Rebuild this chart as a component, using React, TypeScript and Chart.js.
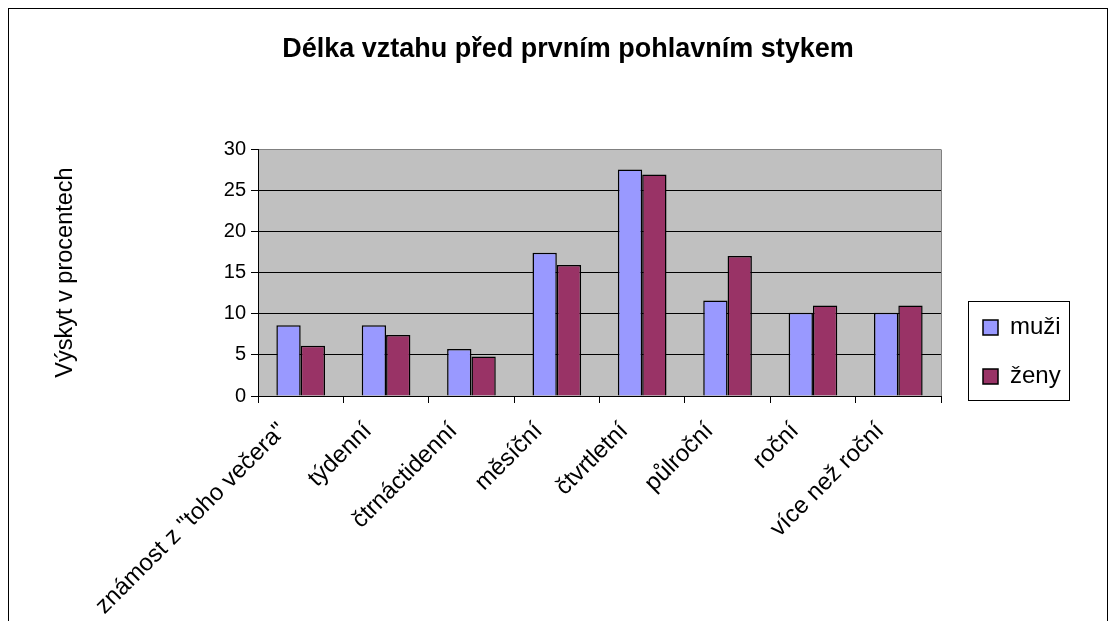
import React, { useEffect, useRef } from 'react';
import { Chart, registerables } from 'chart.js';

Chart.register(...registerables);

const categories = [
  'známost z "toho večera"',
  'týdenní',
  'čtrnáctidenní',
  'měsíční',
  'čtvrtletní',
  'půlroční',
  'roční',
  'více než roční',
];
const muzi = [8.6, 8.6, 5.7, 17.4, 27.5, 11.6, 10.1, 10.1];
const zeny = [6.1, 7.4, 4.8, 15.9, 26.9, 17.0, 11.0, 11.0];
const seriesNames = ['muži', 'ženy'];
const yMin = 0;
const yMax = 30;
const yStep = 5;
const chartTitle = 'Délka vztahu před prvním pohlavním stykem';
const yTitle = 'Výskyt v procentech';

const FONT = "'Liberation Sans', Arial, Helvetica, sans-serif";

export default function App() {
  const ref = useRef<HTMLCanvasElement>(null);

  useEffect(() => {
    if (!ref.current) return;
    const LEGEND_SHIFT = 17.5;

    const excelStyle = {
      id: 'excelStyle',
      beforeDraw(chart: any) {
        const { ctx, chartArea: a } = chart;
        ctx.save();
        ctx.fillStyle = '#FFFFFF';
        ctx.fillRect(0, 0, chart.width, chart.height);
        ctx.fillStyle = '#C0C0C0';
        ctx.fillRect(a.left, a.top, a.right - a.left, a.bottom - a.top);
        ctx.restore();
      },
      afterLayout(chart: any) {
        const lg = chart.legend;
        if (lg) {
          lg.top += LEGEND_SHIFT;
          lg.bottom += LEGEND_SHIFT;
        }
      },
      beforeDatasetsDraw(chart: any) {
        const { ctx, chartArea: a } = chart;
        ctx.save();
        ctx.strokeStyle = '#808080';
        ctx.lineWidth = 1;
        ctx.beginPath();
        const r = Math.round(a.right) + 0.5;
        ctx.moveTo(r, Math.round(a.top) + 0.5);
        ctx.lineTo(r, Math.round(a.bottom));
        ctx.stroke();
        ctx.restore();
      },
      afterDraw(chart: any) {
        const lg = chart.legend;
        if (!lg || !lg.columnSizes || !lg.columnSizes.length) return;
        const { ctx } = chart;
        const colH = lg.columnSizes[0].height;
        const itemsTop = lg.bottom - colH;
        const x = Math.round(lg.left + 10) + 0.5;
        const y = Math.round(itemsTop - 14.5) + 0.5;
        ctx.save();
        ctx.strokeStyle = '#000000';
        ctx.lineWidth = 1;
        ctx.strokeRect(x, y, 101, 99);
        ctx.restore();
      },
    };

    const chart = new Chart(ref.current, {
      type: 'bar',
      data: {
        labels: categories,
        datasets: [
          {
            label: seriesNames[0],
            data: muzi,
            backgroundColor: '#9999FF',
            borderColor: '#000000',
            borderWidth: 1.5,
            categoryPercentage: 0.57,
            barPercentage: 1,
            yAxisID: 'y',
          },
          {
            label: seriesNames[1],
            data: zeny,
            backgroundColor: '#993366',
            borderColor: '#000000',
            borderWidth: 1.5,
            categoryPercentage: 0.57,
            barPercentage: 1,
            yAxisID: 'y',
          },
        ],
      },
      options: {
        responsive: false,
        animation: false,
        events: [],
        layout: { padding: { left: 20, right: 0, top: 0, bottom: 0 } },
        plugins: {
          title: {
            display: true,
            text: chartTitle,
            color: '#000000',
            font: { family: FONT, size: 27, weight: 'bold', lineHeight: 1.2 },
            padding: { top: 24, bottom: 83.6 },
          },
          legend: {
            display: true,
            position: 'right',
            align: 'end',
            fullSize: false,
            maxWidth: 110,
            labels: {
              color: '#000000',
              font: { family: FONT, size: 24 },
              boxWidth: 15,
              boxHeight: 15,
              padding: 25,
            },
          },
          tooltip: { enabled: false },
        },
        scales: {
          x: {
            type: 'category',
            position: 'bottom',
            grid: {
              offset: true,
              drawOnChartArea: false,
              drawTicks: true,
              tickLength: 7,
              color: '#000000',
              tickColor: '#000000',
            },
            border: { display: true, color: '#000000', width: 1 },
            ticks: {
              color: '#000000',
              font: { family: FONT, size: 24 },
              minRotation: 45,
              maxRotation: 45,
              autoSkip: false,
              padding: 14,
              labelOffset: -18,
            },
            afterFit: (s: any) => {
              s.height = 612 - 387;
            },
          },
          y: {
            type: 'linear',
            position: 'left',
            min: yMin,
            max: yMax,
            ticks: {
              stepSize: yStep,
              color: '#000000',
              font: { family: FONT, size: 20 },
              padding: 5,
            },
            grid: {
              color: (c: any) => (c.tick && c.tick.value === yMax ? '#808080' : '#000000'),
              tickColor: '#000000',
              tickLength: 7,
              lineWidth: 1,
            },
            border: { display: true, color: '#000000', width: 1 },
            title: {
              display: true,
              text: yTitle,
              color: '#000000',
              font: { family: FONT, size: 23.5, lineHeight: 1.2 },
              padding: { top: 22, bottom: 0 },
            },
            afterFit: (s: any) => {
              s.width = 249 - 20;
            },
          },
          gapIn: {
            type: 'linear',
            axis: 'y',
            position: 'right',
            weight: 1,
            display: true,
            grid: { display: false },
            ticks: { display: false },
            border: { display: false },
            afterFit: (s: any) => {
              s.width = 17;
            },
          },
          gapOut: {
            type: 'linear',
            axis: 'y',
            position: 'right',
            weight: 3000,
            display: true,
            grid: { display: false },
            ticks: { display: false },
            border: { display: false },
            afterFit: (s: any) => {
              s.width = 39;
            },
          },
        },
      } as any,
      plugins: [excelStyle],
    });

    return () => chart.destroy();
  }, []);

  return (
    <div
      style={{
        position: 'relative',
        width: 1100,
        height: 613,
        boxSizing: 'border-box',
        borderTop: '1px solid #000',
        borderLeft: '1px solid #000',
        borderRight: '1px solid #000',
        background: '#fff',
      }}
    >
      <canvas ref={ref} width={1098} height={612} style={{ display: 'block' }} />
    </div>
  );
}
